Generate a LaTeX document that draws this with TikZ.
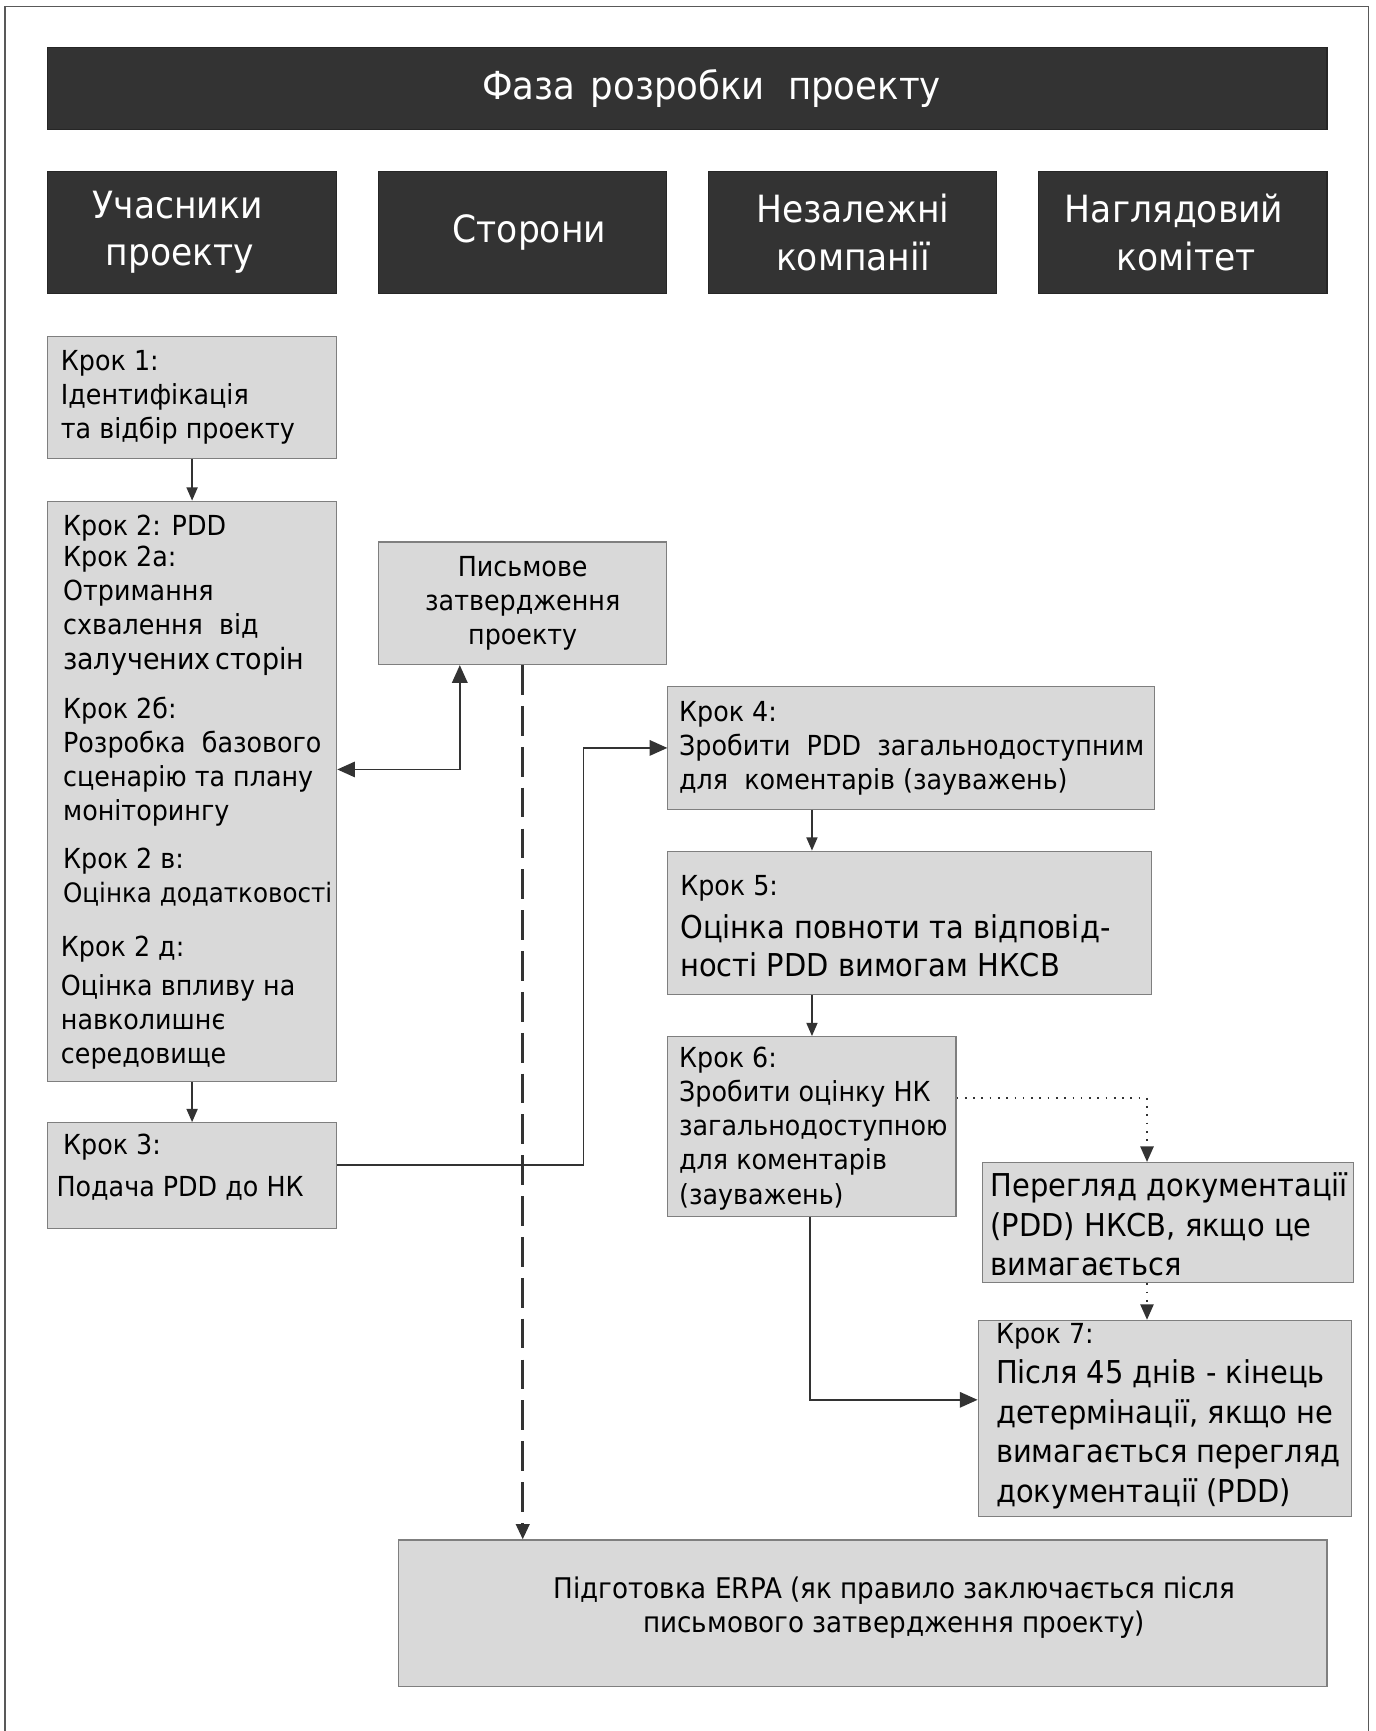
\documentclass[tikz,border=0pt]{standalone}
\usepackage{fontspec}
\setmainfont{DejaVu Sans}[FakeStretch=0.92]
\usetikzlibrary{arrows.meta}

\definecolor{bardark}{HTML}{333333}
\definecolor{boxgray}{HTML}{D9D9D9}
\definecolor{edgegray}{HTML}{7F7F7F}
\definecolor{linedark}{HTML}{333333}

\begin{document}
\begin{tikzpicture}[x=1pt, y=-1pt,
    bar/.style={draw=black!85, fill=bardark, text=white, align=center, inner sep=0pt, line width=1pt, font=\fontsize{34}{43}\selectfont},
    stepbox/.style={draw=edgegray, fill=boxgray, inner sep=0pt, line width=1pt},
    steptext/.style={anchor=west, align=left, inner sep=0pt, text=black, font=\fontsize{25}{31}\selectfont},
    bigtext/.style={font=\fontsize{28.5}{36}\selectfont},
    arr/.style={draw=linedark, line width=1.5pt, -{Triangle[length=12pt, width=10pt]}},
    bigarr/.style={draw=linedark, line width=1.5pt, -{Triangle[length=16pt, width=14pt]}},
    dblarr/.style={draw=linedark, line width=1.5pt, {Triangle[length=16pt, width=14pt]}-{Triangle[length=16pt, width=14pt]}},
    dasharr/.style={draw=linedark, line width=3pt, dash pattern=on 27pt off 10pt, -{Triangle[length=14pt, width=12pt]}},
    dotarr/.style={draw=linedark, line width=1.5pt, dash pattern=on 1.5pt off 6pt, -{Triangle[length=14pt, width=12pt]}}
]
    \useasboundingbox (0,0) rectangle (1246,1568);

    % frame
    \draw[black!65, line width=1pt] (4.5,1568) -- (4.5,5.5) -- (1239.5,5.5) -- (1239.5,1568);

    % title and column heads
    \node[bar, minimum width=1159, minimum height=74, font=\fontsize{35}{43}\selectfont] (title) at (622.5,80)
        {\hspace{44pt}Фаза\hspace{14pt}розробки\hspace{21pt}проекту};
    \node[bar, minimum width=262, minimum height=111] (head1) at (174,210.5)
        {Учасники\hspace*{26pt}\\проекту\hspace*{22pt}};
    \node[bar, minimum width=261, minimum height=111] (head2) at (473.5,210.5) {\hspace{12pt}Сторони};
    \node[bar, minimum width=261, minimum height=111] (head3) at (772.5,210.5) {Незалежні\\компанії};
    \node[bar, minimum width=261, minimum height=111] (head4) at (1071.5,210.5)
        {Наглядовий\hspace*{16pt}\\\hspace*{6pt}комітет};

    % boxes
    \node[stepbox, minimum width=262, minimum height=110] (s1) at (174,360) {};
    \node[stepbox, minimum width=262, minimum height=526] (s2) at (174,717) {};
    \node[stepbox, minimum width=261, minimum height=111, align=center, text=black,
        font=\fontsize{25}{31}\selectfont] (appr) at (473.5,546.5) {Письмове\\затвердження\\проекту};
    \node[stepbox, minimum width=262, minimum height=96] (s3) at (174,1065) {};
    \node[stepbox, minimum width=441, minimum height=111] (s4) at (825.5,677.5) {};
    \node[stepbox, minimum width=438, minimum height=130] (s5) at (824,836) {};
    \node[stepbox, minimum width=261, minimum height=163] (s6) at (735.5,1020.5) {};
    \node[stepbox, minimum width=336, minimum height=109] (rev) at (1058,1107.5) {};
    \node[stepbox, minimum width=338, minimum height=178] (s7) at (1055,1285) {};
    \node[stepbox, minimum width=841, minimum height=133] (erpa) at (781.5,1461.5) {};

    % texts
    \node[steptext] (t1) at (55,360) {Крок 1:\\Ідентифікація\\та відбір проекту};
    \node[steptext] (t2a) at (57,539) {Крок 2: PDD\\[-3pt]Крок 2а:\\Отримання\\схвалення\ \ від\\{\fontsize{26.5}{31}\selectfont залучених\,сторін}};
    \node[steptext] (t2b) at (57,690) {Крок 2б:\\Розробка\ \ базового\\сценарію та плану\\моніторингу};
    \node[steptext] (t2c) at (57,794.5) {Крок 2 в:\\{\fontsize{24.2}{31}\selectfont Оцінка додатковості}};
    \node[steptext] (t2d) at (55,908.5) {Крок 2 д:\\[4pt]Оцінка впливу на\\навколишнє\\середовище};
    \node[steptext] (t3) at (51,1057) {\hspace{6pt}Крок 3:\\[7pt]Подача\ PDD\ до НК};
    \node[steptext] (t4) at (615,678) {Крок 4:\\Зробити\ \ PDD\ \ загальнодоступним\\для\ \ коментарів (зауважень)};
    \node[steptext] (t5) at (616,839) {Крок 5:\\[8pt]{\fontsize{28.5}{36}\selectfont Оцінка повноти та відповід-}\\[4pt]{\fontsize{28.5}{36}\selectfont ності PDD вимогам НКСВ}};
    \node[steptext] (t6) at (615,1022) {Крок 6:\\Зробити оцінку НК\\загальнодоступною\\для коментарів\\(зауважень)};
    \node[steptext, bigtext] (trev) at (897,1109) {Перегляд документації\\(PDD) НКСВ, якщо це\\вимагається};
    \node[steptext, bigtext] (t7) at (902,1283) {{\fontsize{25}{31}\selectfont Крок 7:}\\Після 45 днів - кінець\\детермінації, якщо не\\вимагається перегляд\\документації (PDD)};
    \node[steptext, anchor=center, align=center, font=\fontsize{25.8}{31}\selectfont] (terpa) at (810,1456)
        {Підготовка ERPA (як правило заключається після\\письмового затвердження проекту)};

    % connectors
    \draw[arr] (s1) -- (s2);
    \draw[arr] (s2) -- (s3);
    \draw[dblarr] ([yshift=20pt]s2.east) -| ([xshift=74pt]appr.south west);
    \draw[dasharr] (appr.south) -- (appr.south |- erpa.north);
    \draw[bigarr] ([yshift=10pt]s3.east) -- ++(223,0) |- (s4.west);
    \draw[arr] (s4.south -| s6.north) -- (s5.north -| s6.north);
    \draw[arr] (s5.south -| s6.north) -- (s6.north);
    \draw[dotarr] ([yshift=26pt]s6.east) -| ([xshift=-19pt]rev.north);
    \draw[dotarr] ([xshift=-19pt]rev.south) -- ([xshift=-19pt]rev.south |- s7.north);
    \draw[bigarr] ([xshift=-1.5pt]s6.south) |- ([yshift=17pt]s7.west);
\end{tikzpicture}
\end{document}
